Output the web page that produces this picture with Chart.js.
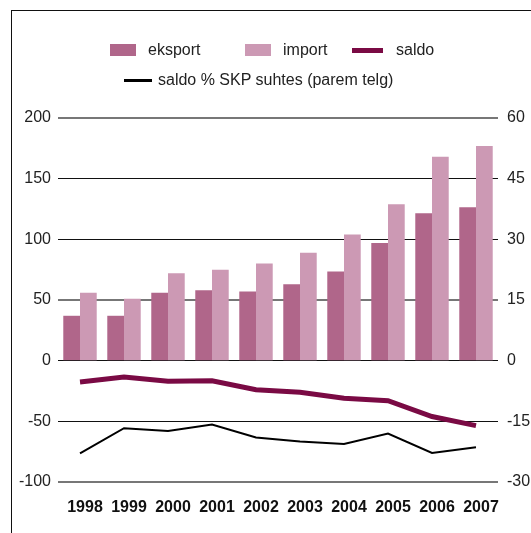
<!DOCTYPE html>
<html>
<head>
<meta charset="utf-8">
<script src="https://cdn.jsdelivr.net/npm/chart.js@4/dist/chart.umd.min.js"></script>
<style>
  html, body { margin: 0; padding: 0; background: #fff; }
  #wrap { position: relative; width: 531px; height: 533px; overflow: hidden; font-family: "Liberation Sans", Arial, sans-serif; color: #222; }
  #frame { position: absolute; left: 11px; top: 10px; right: -5px; bottom: -5px; border-top: 1.5px solid #111; border-left: 1.5px solid #111; }
  canvas { position: absolute; left: 0; top: 0; }
  .lg { position: absolute; font-size: 16px; line-height: 18px; white-space: nowrap; }
  .sw { position: absolute; }
</style>
</head>
<body>
<div id="wrap">
  <div id="frame"></div>
  <canvas id="chart" width="531" height="533"></canvas>
  <div id="legend"></div>
</div>
<script>
// years on the x axis
const years = ['1998', '1999', '2000', '2001', '2002', '2003', '2004', '2005', '2006', '2007'];
// left axis values
const eksport = [37, 37, 56, 58, 57, 63, 73.5, 97, 121.5, 126.5];
const importValues = [56, 51, 72, 75, 80, 89, 104, 129, 168, 177];
const saldo = [-17.5, -13.5, -17, -16.5, -24, -26, -31, -33, -46, -53.5];
// right axis values
const saldoPct = [-22.9, -16.7, -17.4, -15.8, -19.0, -20.0, -20.6, -18.0, -22.8, -21.4];

const labelEksport = 'eksport';
const labelImport = 'import';
const labelSaldo = 'saldo';
const labelPct = 'saldo % SKP suhtes (parem telg)';

const grayLines = [200, 50, -100];

const ctx = document.getElementById('chart').getContext('2d');
const chart = new Chart(ctx, {
    type: 'bar',
    data: {
        labels: years,
        datasets: [{
            label: labelEksport,
            data: eksport,
            backgroundColor: '#b0668a',
            yAxisID: 'y',
            order: 2,
            categoryPercentage: 0.76,
            barPercentage: 1.0
        }, {
            label: labelImport,
            data: importValues,
            backgroundColor: '#cc99b4',
            yAxisID: 'y',
            order: 2,
            categoryPercentage: 0.76,
            barPercentage: 1.0
        }, {
            type: 'line',
            label: labelSaldo,
            data: saldo,
            borderColor: '#7a0a44',
            borderWidth: 5,
            pointRadius: 0,
            tension: 0,
            yAxisID: 'y',
            order: 1
        }, {
            type: 'line',
            label: labelPct,
            data: saldoPct,
            borderColor: '#000',
            borderWidth: 2,
            pointRadius: 0,
            tension: 0,
            yAxisID: 'y2',
            order: 0
        }]
    },
    options: {
        responsive: false,
        animation: false,
        layout: { padding: { top: 118, left: 0, right: 0, bottom: 0 } },
        plugins: {
            legend: { display: false },
            tooltip: { enabled: false }
        },
        scales: {
            x: {
                grid: { display: false, drawTicks: false },
                border: { display: false },
                ticks: {
                    color: '#111',
                    font: { family: 'Liberation Sans', size: 16, weight: 'bold' },
                    padding: 16,
                    labelOffset: 5,
                    maxRotation: 0
                },
                afterFit: s => { s.height = 51; }
            },
            y: {
                position: 'left',
                min: -100,
                max: 200,
                grid: {
                    drawTicks: false,
                    color: c => grayLines.includes(c.tick && c.tick.value) ? '#777' : '#111',
                    lineWidth: c => grayLines.includes(c.tick && c.tick.value) ? 2 : 1
                },
                border: { display: false },
                ticks: {
                    stepSize: 50,
                    color: '#222',
                    padding: 7,
                    font: { family: 'Liberation Sans', size: 16 }
                },
                afterFit: s => { s.width = 58; }
            },
            y2: {
                position: 'right',
                min: -30,
                max: 60,
                grid: { display: false, drawTicks: false },
                border: { display: false },
                ticks: {
                    stepSize: 15,
                    color: '#222',
                    padding: 9,
                    font: { family: 'Liberation Sans', size: 16 }
                },
                afterFit: s => { s.width = 33; }
            }
        }
    }
});

// legend in two rows, built from the datasets
const legendPos = [
    { sw: [110, 44, 26, 12], tx: [148, 41] },
    { sw: [245, 44, 26, 12], tx: [283, 41] },
    { sw: [352, 48, 31, 5], tx: [396, 41] },
    { sw: [124, 79, 28, 2.5], tx: [158, 71] }
];
const legendEl = document.getElementById('legend');
chart.data.datasets.forEach((ds, i) => {
    const p = legendPos[i];
    const sw = document.createElement('div');
    sw.className = 'sw';
    sw.style.left = p.sw[0] + 'px';
    sw.style.top = p.sw[1] + 'px';
    sw.style.width = p.sw[2] + 'px';
    sw.style.height = p.sw[3] + 'px';
    sw.style.background = ds.type === 'line' ? ds.borderColor : ds.backgroundColor;
    legendEl.appendChild(sw);
    const tx = document.createElement('div');
    tx.className = 'lg';
    tx.style.left = p.tx[0] + 'px';
    tx.style.top = p.tx[1] + 'px';
    tx.textContent = ds.label;
    legendEl.appendChild(tx);
});
</script>
</body>
</html>
